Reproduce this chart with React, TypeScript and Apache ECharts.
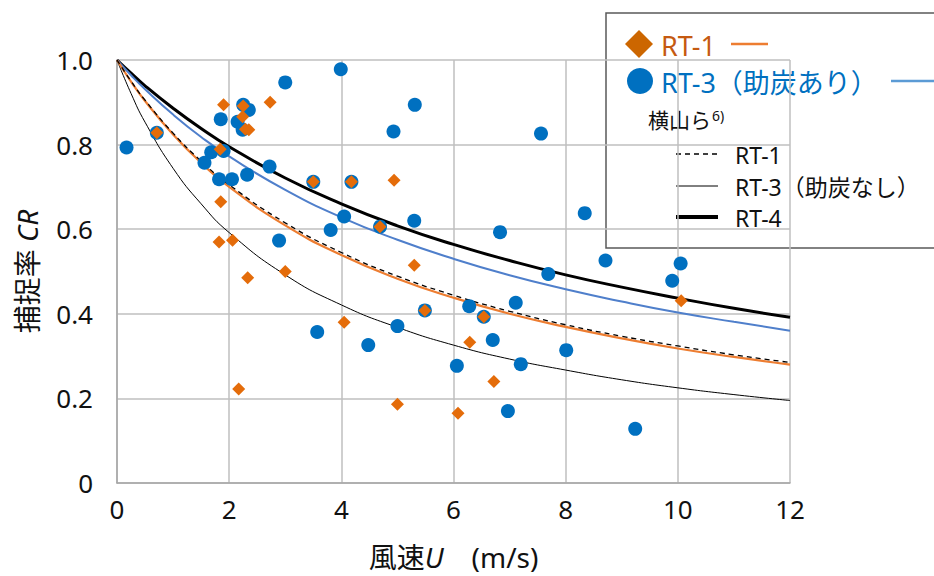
import React, { useEffect, useRef } from "react";
import * as echarts from "echarts";

// RT-1 measured points (wind speed U, capture ratio CR)
const rt1U = [0.71, 1.9, 2.25, 2.73, 2.24, 2.29, 2.35, 1.84, 1.85, 1.82, 2.06, 2.33, 3.0, 2.17, 3.5, 4.18, 4.94, 4.69, 5.3, 5.49, 6.54, 4.05, 6.29, 6.72, 5.0, 6.08, 10.06];
const rt1CR = [0.828, 0.894, 0.891, 0.9, 0.866, 0.836, 0.835, 0.789, 0.665, 0.57, 0.574, 0.485, 0.5, 0.222, 0.712, 0.712, 0.716, 0.606, 0.515, 0.408, 0.393, 0.38, 0.333, 0.24, 0.186, 0.165, 0.431];

// RT-3 (助炭あり) measured points
const rt3U = [0.17, 0.71, 1.85, 2.25, 2.35, 2.15, 2.24, 3.0, 3.99, 1.68, 1.9, 1.56, 1.82, 2.05, 2.32, 2.72, 3.5, 3.81, 2.89, 5.31, 4.93, 7.56, 4.18, 4.05, 4.69, 5.3, 6.83, 8.34, 8.71, 7.69, 10.05, 9.9, 8.01, 9.24, 7.11, 6.28, 5.49, 6.54, 5.0, 4.48, 6.7, 7.2, 6.06, 6.97, 3.57];
const rt3CR = [0.793, 0.828, 0.86, 0.894, 0.882, 0.854, 0.835, 0.947, 0.978, 0.782, 0.785, 0.757, 0.718, 0.718, 0.729, 0.748, 0.712, 0.598, 0.573, 0.894, 0.831, 0.826, 0.712, 0.63, 0.606, 0.62, 0.593, 0.638, 0.526, 0.494, 0.519, 0.478, 0.314, 0.128, 0.426, 0.418, 0.408, 0.393, 0.371, 0.326, 0.338, 0.281, 0.277, 0.17, 0.357];

// Curves
const curveU = [0, 0.25, 0.5, 1, 1.5, 2, 3, 4, 5, 6, 7, 8, 9, 10, 11, 12];
const fitRT1 = [1, 0.949, 0.903, 0.824, 0.757, 0.7, 0.609, 0.539, 0.483, 0.438, 0.4, 0.369, 0.342, 0.318, 0.298, 0.28];
const fitRT3 = [1, 0.964, 0.931, 0.871, 0.818, 0.772, 0.693, 0.628, 0.575, 0.53, 0.491, 0.458, 0.429, 0.403, 0.381, 0.36];
const yokoRT1 = [1, 0.95, 0.905, 0.827, 0.761, 0.705, 0.615, 0.545, 0.489, 0.444, 0.406, 0.374, 0.347, 0.324, 0.303, 0.285];
const yokoRT3 = [1, 0.921, 0.853, 0.744, 0.66, 0.592, 0.492, 0.421, 0.368, 0.326, 0.293, 0.267, 0.244, 0.225, 0.209, 0.195];
const yokoRT4 = [1, 0.969, 0.939, 0.886, 0.838, 0.795, 0.721, 0.66, 0.608, 0.564, 0.526, 0.492, 0.463, 0.437, 0.413, 0.392];

const xTicks = [0, 2, 4, 6, 8, 10, 12];

const FONT = "'Noto Sans', 'Noto Sans CJK JP', sans-serif";
const ORANGE = "#E46C0A";
const BLUE = "#0070C0";
const ORANGE_LINE = "#ED7D31";
const BLUE_LINE = "#4F7FCB";
const TEXT = "#111111";

const pairs = (xs: number[], ys: number[]) => xs.map((x, i) => [x, ys[i]]);

export default function App() {
  const ref = useRef<HTMLDivElement>(null);
  useEffect(() => {
    document.body.style.margin = "0";
    const chart = echarts.init(ref.current!, null, { renderer: "svg" });
    const lineSeries = (name: string, ys: number[], color: string, width: number, type: any = "solid") => ({
      name,
      type: "line",
      data: pairs(curveU, ys),
      smooth: true,
      symbol: "none",
      lineStyle: { color, width, type },
      z: 2,
    });
    const legX = 606;
    const legY = 13;
    chart.setOption({
      animation: false,
      grid: { left: 117, right: 144, top: 60, bottom: 93 },
      xAxis: {
        type: "value",
        min: 0,
        max: 12,
        interval: 2,
        axisLine: { show: true, lineStyle: { color: "#A6A6A6", width: 1.5 } },
        axisTick: { show: false },
        splitLine: { show: true, lineStyle: { color: "#BFBFBF", width: 1.5 } },
        axisLabel: { color: TEXT, fontSize: 26, fontFamily: FONT, margin: 13, formatter: (v: number) => (xTicks.includes(v) ? String(v) : "") },
        name: "{a|風速}{b|U}{a|　(m/s)}",
        nameLocation: "middle",
        nameGap: 60,
        nameTextStyle: {
          rich: {
            a: { fontSize: 28, fontFamily: FONT, color: TEXT },
            b: { fontSize: 28, fontFamily: FONT, fontStyle: "italic", color: TEXT },
          },
        },
      },
      yAxis: {
        type: "value",
        min: 0,
        max: 1,
        interval: 0.2,
        axisLine: { show: true, lineStyle: { color: "#A6A6A6", width: 1.5 } },
        axisTick: { show: false },
        splitLine: { show: true, lineStyle: { color: "#BFBFBF", width: 1.5 } },
        axisLabel: { color: TEXT, fontSize: 26, fontFamily: FONT, margin: 24, formatter: (v: number) => (v === 0 ? "0" : v.toFixed(1)) },
        name: "{a|捕捉率 }{b|CR}",
        nameLocation: "middle",
        nameGap: 76,
        nameTextStyle: {
          rich: {
            a: { fontSize: 28, fontFamily: FONT, color: TEXT },
            b: { fontSize: 28, fontFamily: FONT, fontStyle: "italic", color: TEXT },
          },
        },
      },
      series: [
        lineSeries("RT-4 横山", yokoRT4, "#000000", 3),
        lineSeries("RT-3 横山", yokoRT3, "#000000", 1),
        lineSeries("RT-3 fit", fitRT3, BLUE_LINE, 2),
        lineSeries("RT-1 fit", fitRT1, ORANGE_LINE, 2.2),
        lineSeries("RT-1 横山", yokoRT1, "#000000", 1.3, [5, 4]),
        {
          name: "RT-3",
          type: "scatter",
          data: pairs(rt3U, rt3CR),
          symbol: "circle",
          symbolSize: 14,
          itemStyle: { color: BLUE, opacity: 1 },
          z: 3,
        },
        {
          name: "RT-1",
          type: "scatter",
          data: pairs(rt1U, rt1CR),
          symbol: "diamond",
          symbolSize: 13,
          itemStyle: { color: ORANGE, opacity: 1 },
          z: 4,
        },
      ],
      graphic: [
        {
          type: "group",
          z: 100,
          children: [
            { type: "rect", shape: { x: legX, y: legY, width: 340, height: 235 }, style: { fill: "#ffffff", stroke: "#595959", lineWidth: 1.5 } },
            { type: "polygon", shape: { points: [[639, 30], [653, 44], [639, 58], [625, 44]] }, style: { fill: "#CC6600" } },
            { type: "text", x: 661, y: 45, style: { text: "RT-1", fontSize: 27, fontFamily: FONT, fill: "#C55A11", verticalAlign: "middle" } },
            { type: "line", shape: { x1: 731, y1: 44, x2: 768, y2: 44 }, style: { stroke: ORANGE_LINE, lineWidth: 2.5 } },
            { type: "circle", shape: { cx: 640, cy: 81, r: 13 }, style: { fill: BLUE } },
            { type: "text", x: 661, y: 82, style: { text: "RT-3（助炭あり）", fontSize: 27, fontFamily: FONT, fill: "#0070C0", verticalAlign: "middle" } },
            { type: "line", shape: { x1: 891, y1: 81, x2: 934, y2: 81 }, style: { stroke: "#5B9BD5", lineWidth: 2.5 } },
            { type: "text", x: 648, y: 120, style: { text: "横山ら", fontSize: 21, fontFamily: FONT, fill: TEXT, verticalAlign: "middle" } },
            { type: "text", x: 712, y: 115, style: { text: "6)", fontSize: 14, fontFamily: FONT, fill: TEXT, verticalAlign: "middle" } },
            { type: "line", shape: { x1: 676, y1: 154, x2: 718, y2: 154 }, style: { stroke: "#000", lineWidth: 1.3, lineDash: [5, 4] } },
            { type: "text", x: 735, y: 155, style: { text: "RT-1", fontSize: 23, fontFamily: FONT, fill: TEXT, verticalAlign: "middle" } },
            { type: "line", shape: { x1: 676, y1: 186, x2: 718, y2: 186 }, style: { stroke: "#000", lineWidth: 1 } },
            { type: "text", x: 735, y: 187, style: { text: "RT-3（助炭なし）", fontSize: 23, fontFamily: FONT, fill: TEXT, verticalAlign: "middle" } },
            { type: "line", shape: { x1: 676, y1: 217, x2: 718, y2: 217 }, style: { stroke: "#000", lineWidth: 4 } },
            { type: "text", x: 735, y: 218, style: { text: "RT-4", fontSize: 23, fontFamily: FONT, fill: TEXT, verticalAlign: "middle" } },
          ],
        },
      ],
    });
    return () => chart.dispose();
  }, []);
  return <div ref={ref} style={{ width: 934, height: 576 }} />;
}
